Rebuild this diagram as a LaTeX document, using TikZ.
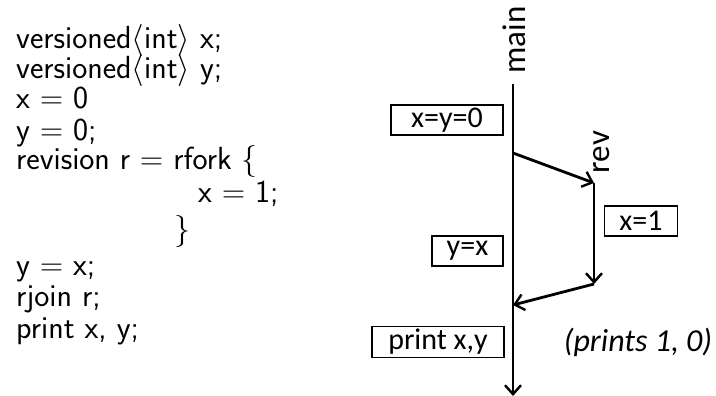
\RequirePackage{fix-cm}
\documentclass[tikz,border=0pt]{standalone}
\usepackage{fontspec}
\newfontfamily\carlitofont{Carlito}
\usetikzlibrary{arrows.meta}
\begin{document}
\begin{tikzpicture}[x=1pt,y=-1pt,
  code/.style={anchor=base west,inner sep=0pt,font=\fontsize{32}{36}\selectfont\sffamily},
  lbl/.style={font=\fontsize{33}{36}\carlitofont,inner sep=0pt},
  box/.style={draw,line width=1.2pt,inner sep=0pt,font=\fontsize{30}{32}\carlitofont},
  flow/.style={line width=2.8pt,-{Straight Barb[length=9pt,width=16pt,line width=2.4pt]}}]
\useasboundingbox (0,0) rectangle (716,396);
% code
\node[code] (c1) at (16,49) {versioned$\langle$int$\rangle$ x;};
\node[code] (c2) at (16,79) {versioned$\langle$int$\rangle$ y;};
\node[code] (c3) at (16,109) {x $=$ 0};
\node[code] (c4) at (16,140) {y $=$ 0;};
\node[code] (c5) at (16,170) {revision r $=$ rfork $\{$};
\node[code] (c6) at (198,202) {x $=$ 1;};
\node[code] (c7) at (174,240) {$\}$};
\node[code] (c8) at (16,275) {y $=$ x;};
\node[code] (c9) at (16,306) {rjoin r;};
\node[code] (c10) at (16,338) {print x, y;};
% diagram
\node[lbl,rotate=90] (main) at (514,40) {main};
\node[lbl,rotate=90] (rev) at (602,152) {rev};
\coordinate (mtop) at (513,84);
\coordinate (mbot) at (513,396);
\coordinate (f1) at (513,153);
\coordinate (r1) at (594,183);
\coordinate (r2) at (594,284);
\coordinate (j2) at (513,305);
\draw[line width=2.8pt,-{Straight Barb[length=9pt,width=16pt,line width=2.4pt]}] (mtop) -- (mbot);
\draw[flow] (f1) -- (r1);
\draw[flow] (r1) -- (r2);
\draw[flow] (r2) -- (j2);
\node[box,minimum width=112pt,minimum height=30pt] (b1) at (447,120) {x=y=0};
\node[box,minimum width=73pt,minimum height=30pt] (b2) at (641,221) {x=1};
\node[box,minimum width=71pt,minimum height=30pt] (b3) at (467.5,251) {y=x};
\node[box,minimum width=132pt,minimum height=31pt] (b4) at (438,342) {print x,y};
\node[lbl,font=\fontsize{32}{36}\carlitofont\itshape] (pr) at (638,342) {(prints 1, 0)};
\end{tikzpicture}
\end{document}
